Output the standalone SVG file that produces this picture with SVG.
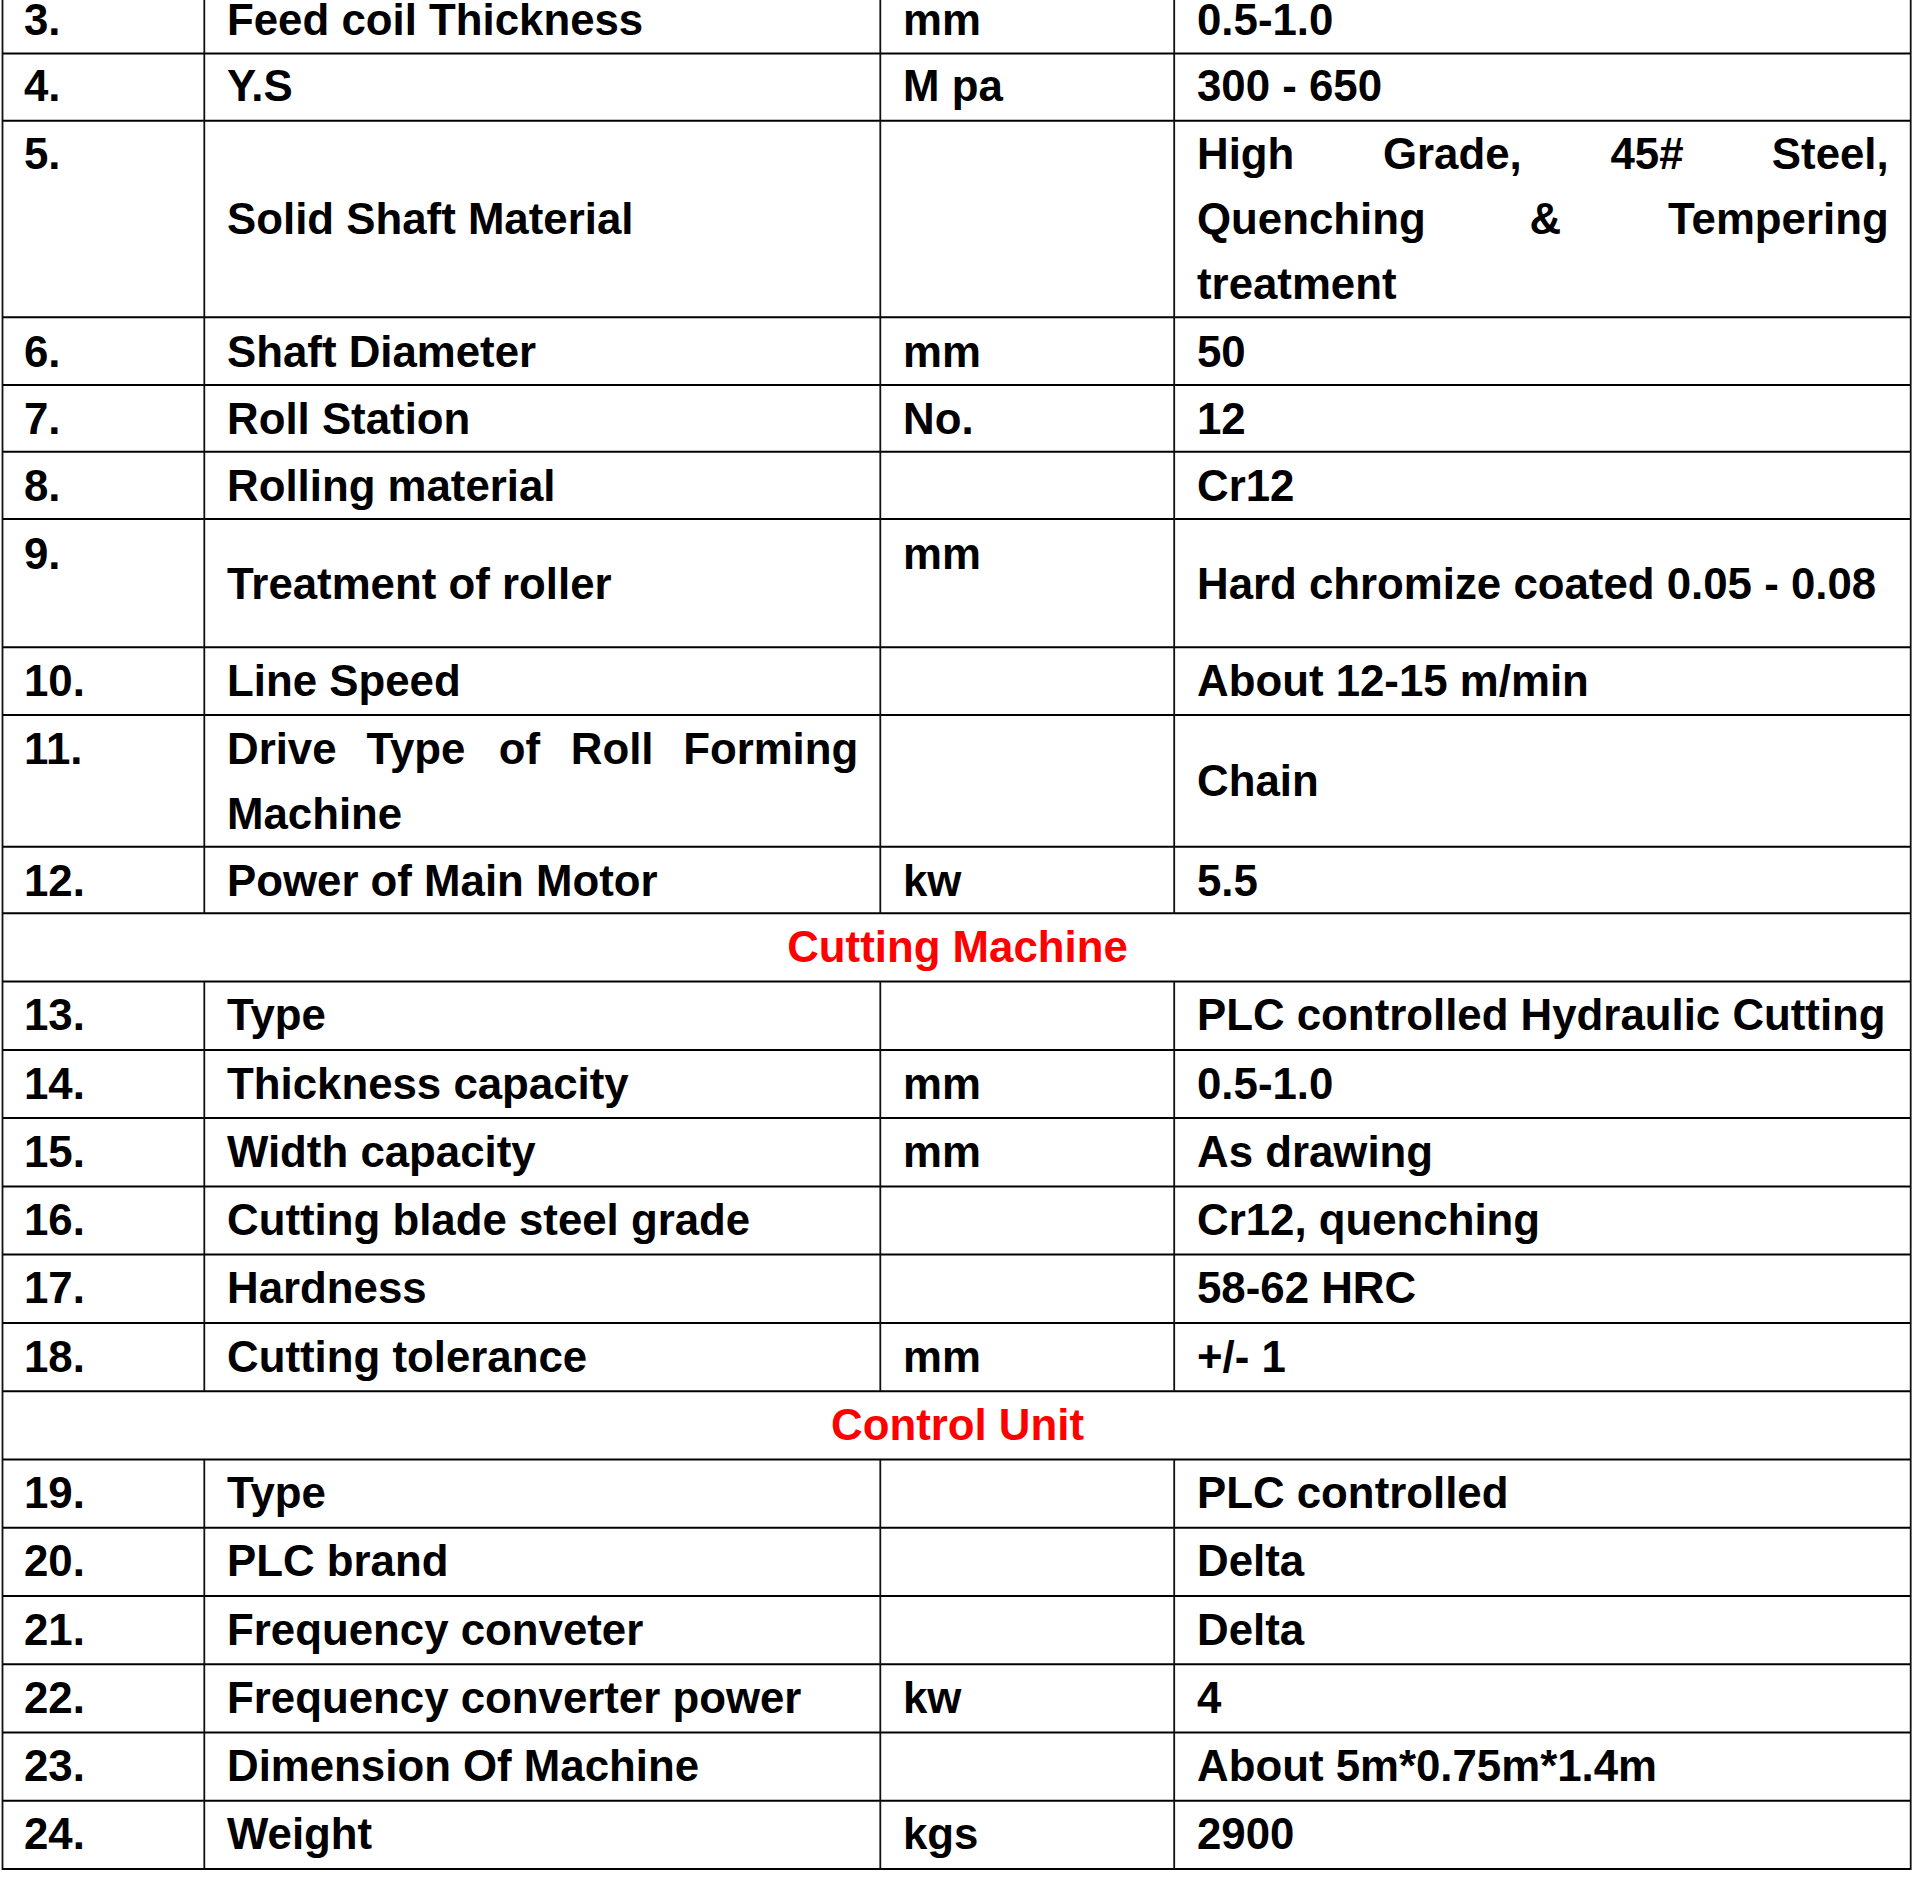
<svg xmlns="http://www.w3.org/2000/svg" width="1914" height="1878" viewBox="0 0 1914 1878">
<style>
  .t { font-family: "Liberation Sans", Arial, sans-serif; font-weight: bold; font-size: 43.8px; fill: #000; }
  .h { font-family: "Liberation Sans", Arial, sans-serif; font-weight: bold; font-size: 43.8px; fill: #FF0000; text-anchor: middle; }
  .hl { stroke: #000; stroke-width: 2; fill: none; }
  .vl { stroke: #111; stroke-width: 1.8; fill: none; }
</style>
<rect x="0" y="0" width="1914" height="1878" fill="#fff"/>
<g id="grid">
  <g id="hlines" class="hl">
    <line x1="2.5" y1="53.5" x2="1910.7" y2="53.5"/>
    <line x1="2.5" y1="120.7" x2="1910.7" y2="120.7"/>
    <line x1="2.5" y1="317.3" x2="1910.7" y2="317.3"/>
    <line x1="2.5" y1="385" x2="1910.7" y2="385"/>
    <line x1="2.5" y1="451.8" x2="1910.7" y2="451.8"/>
    <line x1="2.5" y1="519" x2="1910.7" y2="519"/>
    <line x1="2.5" y1="647.3" x2="1910.7" y2="647.3"/>
    <line x1="2.5" y1="715" x2="1910.7" y2="715"/>
    <line x1="2.5" y1="846.8" x2="1910.7" y2="846.8"/>
    <line x1="2.5" y1="913.3" x2="1910.7" y2="913.3"/>
    <line x1="2.5" y1="981.6" x2="1910.7" y2="981.6"/>
    <line x1="2.5" y1="1049.9" x2="1910.7" y2="1049.9"/>
    <line x1="2.5" y1="1118.1" x2="1910.7" y2="1118.1"/>
    <line x1="2.5" y1="1186.4" x2="1910.7" y2="1186.4"/>
    <line x1="2.5" y1="1254.6" x2="1910.7" y2="1254.6"/>
    <line x1="2.5" y1="1322.9" x2="1910.7" y2="1322.9"/>
    <line x1="2.5" y1="1391.2" x2="1910.7" y2="1391.2"/>
    <line x1="2.5" y1="1459.4" x2="1910.7" y2="1459.4"/>
    <line x1="2.5" y1="1527.7" x2="1910.7" y2="1527.7"/>
    <line x1="2.5" y1="1596" x2="1910.7" y2="1596"/>
    <line x1="2.5" y1="1664.2" x2="1910.7" y2="1664.2"/>
    <line x1="2.5" y1="1732.5" x2="1910.7" y2="1732.5"/>
    <line x1="2.5" y1="1800.7" x2="1910.7" y2="1800.7"/>
    <line x1="2.5" y1="1869" x2="1910.7" y2="1869"/>
  </g>
  <g id="vlines" class="vl">
    <line x1="2.5" y1="0" x2="2.5" y2="1870"/>
    <line x1="1910.7" y1="0" x2="1910.7" y2="1870"/>
    <line x1="204.3" y1="0" x2="204.3" y2="913.3"/>
    <line x1="880.3" y1="0" x2="880.3" y2="913.3"/>
    <line x1="1174.2" y1="0" x2="1174.2" y2="913.3"/>
    <line x1="204.3" y1="981.6" x2="204.3" y2="1391.2"/>
    <line x1="880.3" y1="981.6" x2="880.3" y2="1391.2"/>
    <line x1="1174.2" y1="981.6" x2="1174.2" y2="1391.2"/>
    <line x1="204.3" y1="1459.4" x2="204.3" y2="1869"/>
    <line x1="880.3" y1="1459.4" x2="880.3" y2="1869"/>
    <line x1="1174.2" y1="1459.4" x2="1174.2" y2="1869"/>
  </g>
</g>
<g id="row3" class="t">
  <text x="24" y="35">3.</text><text x="227" y="35">Feed coil Thickness</text><text x="903" y="35">mm</text><text x="1197" y="35">0.5-1.0</text>
</g>
<g id="row4" class="t">
  <text x="24" y="100.5">4.</text><text x="227" y="100.5">Y.S</text><text x="903" y="100.5">M pa</text><text x="1197" y="100.5">300 - 650</text>
</g>
<g id="row5" class="t">
  <text x="24" y="169">5.</text>
  <text x="227" y="233.5">Solid Shaft Material</text>
  <text y="169"><tspan x="1197">High</tspan> <tspan x="1383">Grade,</tspan> <tspan x="1610.5">45#</tspan> <tspan x="1888.7" text-anchor="end">Steel,</tspan></text>
  <text y="234"><tspan x="1197">Quenching</tspan> <tspan x="1529.5">&amp;</tspan> <tspan x="1888.7" text-anchor="end">Tempering</tspan></text>
  <text x="1197" y="299">treatment</text>
</g>
<g id="row6" class="t">
  <text x="24" y="366.5">6.</text><text x="227" y="366.5">Shaft Diameter</text><text x="903" y="366.5">mm</text><text x="1197" y="366.5">50</text>
</g>
<g id="row7" class="t">
  <text x="24" y="433.5">7.</text><text x="227" y="433.5">Roll Station</text><text x="903" y="433.5">No.</text><text x="1197" y="433.5">12</text>
</g>
<g id="row8" class="t">
  <text x="24" y="500.5">8.</text><text x="227" y="500.5">Rolling material</text><text x="1197" y="500.5">Cr12</text>
</g>
<g id="row9" class="t">
  <text x="24" y="568.5">9.</text><text x="227" y="598.7">Treatment of roller</text><text x="903" y="568.5">mm</text><text x="1197" y="598.7">Hard chromize coated 0.05 - 0.08</text>
</g>
<g id="row10" class="t">
  <text x="24" y="696.3">10.</text><text x="227" y="696.3">Line Speed</text><text x="1197" y="696.3">About 12-15 m/min</text>
</g>
<g id="row11" class="t">
  <text x="24" y="764">11.</text>
  <text y="764"><tspan x="227">Drive</tspan> <tspan x="366.5">Type</tspan> <tspan x="498.8">of</tspan> <tspan x="570.8">Roll</tspan> <tspan x="858.3" text-anchor="end">Forming</tspan></text>
  <text x="227" y="829.3">Machine</text>
  <text x="1197" y="796.4">Chain</text>
</g>
<g id="row12" class="t">
  <text x="24" y="895.7">12.</text><text x="227" y="895.7">Power of Main Motor</text><text x="903" y="895.7">kw</text><text x="1197" y="895.7">5.5</text>
</g>
<g id="section-cutting">
  <text class="h" x="957.5" y="961.8">Cutting Machine</text>
</g>
<g id="row13" class="t">
  <text x="24" y="1030.2">13.</text><text x="227" y="1030.2">Type</text><text x="1197" y="1030.2">PLC controlled Hydraulic Cutting</text>
</g>
<g id="row14" class="t">
  <text x="24" y="1098.5">14.</text><text x="227" y="1098.5">Thickness capacity</text><text x="903" y="1098.5">mm</text><text x="1197" y="1098.5">0.5-1.0</text>
</g>
<g id="row15" class="t">
  <text x="24" y="1166.7">15.</text><text x="227" y="1166.7">Width capacity</text><text x="903" y="1166.7">mm</text><text x="1197" y="1166.7">As drawing</text>
</g>
<g id="row16" class="t">
  <text x="24" y="1235">16.</text><text x="227" y="1235">Cutting blade steel grade</text><text x="1197" y="1235">Cr12, quenching</text>
</g>
<g id="row17" class="t">
  <text x="24" y="1303.2">17.</text><text x="227" y="1303.2">Hardness</text><text x="1197" y="1303.2">58-62 HRC</text>
</g>
<g id="row18" class="t">
  <text x="24" y="1371.5">18.</text><text x="227" y="1371.5">Cutting tolerance</text><text x="903" y="1371.5">mm</text><text x="1197" y="1371.5">+/- 1</text>
</g>
<g id="section-control">
  <text class="h" x="957.5" y="1439.8">Control Unit</text>
</g>
<g id="row19" class="t">
  <text x="24" y="1508">19.</text><text x="227" y="1508">Type</text><text x="1197" y="1508">PLC controlled</text>
</g>
<g id="row20" class="t">
  <text x="24" y="1576.3">20.</text><text x="227" y="1576.3">PLC brand</text><text x="1197" y="1576.3">Delta</text>
</g>
<g id="row21" class="t">
  <text x="24" y="1644.6">21.</text><text x="227" y="1644.6">Frequency conveter</text><text x="1197" y="1644.6">Delta</text>
</g>
<g id="row22" class="t">
  <text x="24" y="1712.8">22.</text><text x="227" y="1712.8">Frequency converter power</text><text x="903" y="1712.8">kw</text><text x="1197" y="1712.8">4</text>
</g>
<g id="row23" class="t">
  <text x="24" y="1781.1">23.</text><text x="227" y="1781.1">Dimension Of Machine</text><text x="1197" y="1781.1">About 5m*0.75m*1.4m</text>
</g>
<g id="row24" class="t">
  <text x="24" y="1849.3">24.</text><text x="227" y="1849.3">Weight</text><text x="903" y="1849.3">kgs</text><text x="1197" y="1849.3">2900</text>
</g>
</svg>
